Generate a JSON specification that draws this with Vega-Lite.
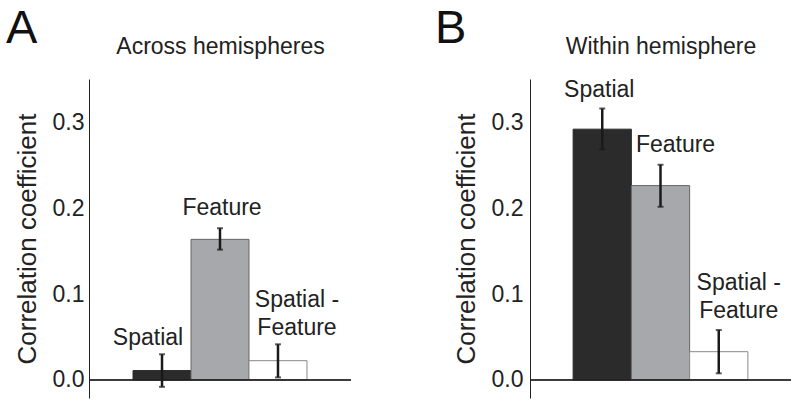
{
  "$schema": "https://vega.github.io/schema/vega-lite/v6.json",
  "padding": {"left": 6, "top": 5, "right": 0, "bottom": 10},
  "spacing": 83,
  "config": {
    "view": {"stroke": null},
    "font": "Liberation Sans",
    "text": {"lineBreak": "\n", "lineHeight": 28, "fontSize": 23, "color": "#222222", "baseline": "bottom", "align": "center"},
    "title": {"fontSize": 47, "fontWeight": "normal", "anchor": "start", "frame": "bounds", "color": "#111111", "offset": -18},
    "axis": {"grid": false, "ticks": false, "labelFont": "Liberation Sans", "titleFont": "Liberation Sans", "titleFontWeight": "normal", "labelColor": "#222222", "titleColor": "#222222", "domainColor": "#222222"}
  },
  "datasets": {
    "rows": [
      {"panel": "A", "cond": "Spatial", "label": "Spatial", "mean": 0.011, "lo": -0.008, "hi": 0.030},
      {"panel": "A", "cond": "Feature", "label": "Feature", "mean": 0.164, "lo": 0.152, "hi": 0.177},
      {"panel": "A", "cond": "Spatial - Feature", "label": "Spatial -\nFeature", "mean": 0.0225, "lo": 0.003, "hi": 0.0416},
      {"panel": "B", "cond": "Spatial", "label": "Spatial", "mean": 0.2925, "lo": 0.269, "hi": 0.3166},
      {"panel": "B", "cond": "Feature", "label": "Feature", "mean": 0.2267, "lo": 0.202, "hi": 0.251},
      {"panel": "B", "cond": "Spatial - Feature", "label": "Spatial -\nFeature", "mean": 0.033, "lo": 0.0078, "hi": 0.0583}
    ]
  },
  "hconcat": [
    {
      "title": {"text": "A", "dx": -8},
      "width": 262,
      "height": 319,
      "data": {"name": "rows"},
      "transform": [{"filter": "datum.panel == 'A'"}],
      "layer": [
        {
          "mark": {"type": "bar", "strokeWidth": 1},
          "encoding": {
            "x": {"field": "cond", "type": "nominal", "sort": ["Spatial", "Feature", "Spatial - Feature"],
                  "scale": {"paddingInner": 0, "paddingOuter": 0.759},
                  "axis": {"orient": "top", "title": "Across hemispheres", "labels": false, "domain": false, "titleFontSize": 23, "titlePadding": 21}},
            "y": {"field": "mean", "type": "quantitative", "scale": {"domain": [-0.021, 0.351], "nice": false, "zero": false},
                  "axis": {"title": "Correlation coefficient", "values": [0, 0.1, 0.2, 0.3], "format": ".1f", "labelFontSize": 23, "titleFontSize": 26, "labelPadding": 5, "titlePadding": 12}},
            "y2": {"datum": 0},
            "fill": {"field": "cond", "type": "nominal", "scale": {"domain": ["Spatial", "Feature", "Spatial - Feature"], "range": ["#2b2b2b", "#a7a8ab", "#ffffff"]}, "legend": null},
            "stroke": {"field": "cond", "type": "nominal", "scale": {"domain": ["Spatial", "Feature", "Spatial - Feature"], "range": ["#2b2b2b", "#666666", "#888888"]}, "legend": null}
          }
        },
        {"mark": {"type": "rule", "color": "#222222", "strokeWidth": 1}, "encoding": {"y": {"datum": 0}}},
        {
          "mark": {"type": "rule", "color": "#1a1a1a", "strokeWidth": 2.5},
          "encoding": {"x": {"field": "cond", "type": "nominal", "sort": ["Spatial", "Feature", "Spatial - Feature"]}, "y": {"field": "lo", "type": "quantitative"}, "y2": {"field": "hi"}}
        },
        {
          "mark": {"type": "tick", "color": "#1a1a1a", "size": 6, "thickness": 2},
          "encoding": {"x": {"field": "cond", "type": "nominal", "sort": ["Spatial", "Feature", "Spatial - Feature"]}, "y": {"field": "lo", "type": "quantitative"}}
        },
        {
          "mark": {"type": "tick", "color": "#1a1a1a", "size": 6, "thickness": 2},
          "encoding": {"x": {"field": "cond", "type": "nominal", "sort": ["Spatial", "Feature", "Spatial - Feature"]}, "y": {"field": "hi", "type": "quantitative"}}
        },
        {
          "transform": [{"filter": "datum.cond == 'Spatial'"}],
          "mark": {"type": "text", "dx": -14, "dy": -4},
          "encoding": {"x": {"field": "cond", "type": "nominal", "sort": ["Spatial", "Feature", "Spatial - Feature"]}, "y": {"field": "hi", "type": "quantitative"}, "text": {"field": "label"}}
        },
        {
          "transform": [{"filter": "datum.cond == 'Feature'"}],
          "mark": {"type": "text", "dx": 2, "dy": -8},
          "encoding": {"x": {"field": "cond", "type": "nominal", "sort": ["Spatial", "Feature", "Spatial - Feature"]}, "y": {"field": "hi", "type": "quantitative"}, "text": {"field": "label"}}
        },
        {
          "transform": [{"filter": "datum.cond == 'Spatial - Feature'"}],
          "mark": {"type": "text", "dx": 19, "dy": -32},
          "encoding": {"x": {"field": "cond", "type": "nominal", "sort": ["Spatial", "Feature", "Spatial - Feature"]}, "y": {"field": "hi", "type": "quantitative"}, "text": {"field": "label"}}
        }
      ]
    },
    {
      "title": {"text": "B", "dx": -18},
      "width": 261,
      "height": 319,
      "data": {"name": "rows"},
      "transform": [{"filter": "datum.panel == 'B'"}],
      "layer": [
        {
          "mark": {"type": "bar", "strokeWidth": 1},
          "encoding": {
            "x": {"field": "cond", "type": "nominal", "sort": ["Spatial", "Feature", "Spatial - Feature"],
                  "scale": {"paddingInner": 0, "paddingOuter": 0.74},
                  "axis": {"orient": "top", "title": "Within hemisphere", "labels": false, "domain": false, "titleFontSize": 23, "titlePadding": 21}},
            "y": {"field": "mean", "type": "quantitative", "scale": {"domain": [-0.021, 0.351], "nice": false, "zero": false},
                  "axis": {"title": "Correlation coefficient", "values": [0, 0.1, 0.2, 0.3], "format": ".1f", "labelFontSize": 23, "titleFontSize": 26, "labelPadding": 7, "titlePadding": 12}},
            "y2": {"datum": 0},
            "fill": {"field": "cond", "type": "nominal", "scale": {"domain": ["Spatial", "Feature", "Spatial - Feature"], "range": ["#2b2b2b", "#a7a8ab", "#ffffff"]}, "legend": null},
            "stroke": {"field": "cond", "type": "nominal", "scale": {"domain": ["Spatial", "Feature", "Spatial - Feature"], "range": ["#2b2b2b", "#666666", "#888888"]}, "legend": null}
          }
        },
        {"mark": {"type": "rule", "color": "#222222", "strokeWidth": 1}, "encoding": {"y": {"datum": 0}}},
        {
          "mark": {"type": "rule", "color": "#1a1a1a", "strokeWidth": 2.5},
          "encoding": {"x": {"field": "cond", "type": "nominal", "sort": ["Spatial", "Feature", "Spatial - Feature"]}, "y": {"field": "lo", "type": "quantitative"}, "y2": {"field": "hi"}}
        },
        {
          "mark": {"type": "tick", "color": "#1a1a1a", "size": 6, "thickness": 2},
          "encoding": {"x": {"field": "cond", "type": "nominal", "sort": ["Spatial", "Feature", "Spatial - Feature"]}, "y": {"field": "lo", "type": "quantitative"}}
        },
        {
          "mark": {"type": "tick", "color": "#1a1a1a", "size": 6, "thickness": 2},
          "encoding": {"x": {"field": "cond", "type": "nominal", "sort": ["Spatial", "Feature", "Spatial - Feature"]}, "y": {"field": "hi", "type": "quantitative"}}
        },
        {
          "transform": [{"filter": "datum.cond == 'Spatial'"}],
          "mark": {"type": "text", "dx": -3, "dy": -6},
          "encoding": {"x": {"field": "cond", "type": "nominal", "sort": ["Spatial", "Feature", "Spatial - Feature"]}, "y": {"field": "hi", "type": "quantitative"}, "text": {"field": "label"}}
        },
        {
          "transform": [{"filter": "datum.cond == 'Feature'"}],
          "mark": {"type": "text", "dx": 15, "dy": -8},
          "encoding": {"x": {"field": "cond", "type": "nominal", "sort": ["Spatial", "Feature", "Spatial - Feature"]}, "y": {"field": "hi", "type": "quantitative"}, "text": {"field": "label"}}
        },
        {
          "transform": [{"filter": "datum.cond == 'Spatial - Feature'"}],
          "mark": {"type": "text", "dx": 20, "dy": -35},
          "encoding": {"x": {"field": "cond", "type": "nominal", "sort": ["Spatial", "Feature", "Spatial - Feature"]}, "y": {"field": "hi", "type": "quantitative"}, "text": {"field": "label"}}
        }
      ]
    }
  ]
}
